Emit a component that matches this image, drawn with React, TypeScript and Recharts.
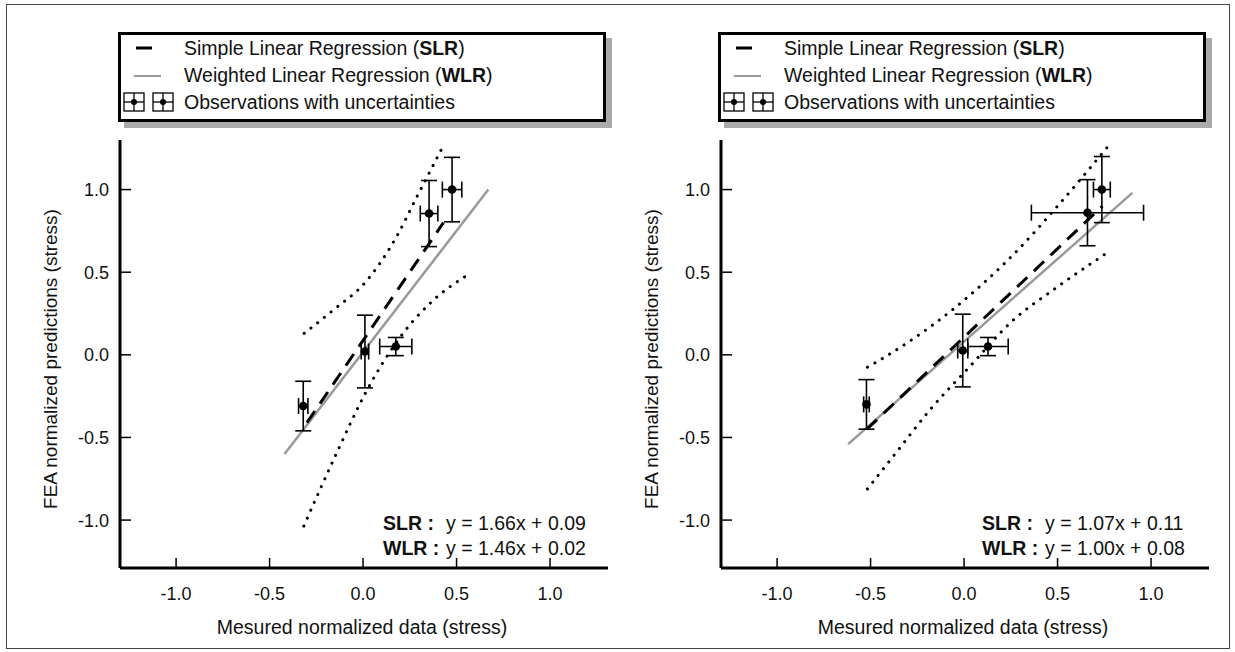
import React from 'react';
import { ComposedChart, Line, Scatter, XAxis, YAxis, ErrorBar } from 'recharts';

const FONT = '"Liberation Sans", Arial, Helvetica, sans-serif';

const xTicks = [-1, -0.5, 0, 0.5, 1];
const yTicks = [-1, -0.5, 0, 0.5, 1];
const xDomain = [-1.3, 1.31];
const yDomain = [-1.29, 1.3];

const xTitle = 'Mesured normalized data (stress)';
const yTitle = 'FEA normalized predictions (stress)';

// observations with x / y uncertainties
const leftObs = [
  { x: -0.32, y: -0.31, ex: 0.025, ey: 0.15 },
  { x: 0.01, y: 0.02, ex: 0.02, ey: 0.22 },
  { x: 0.175, y: 0.05, ex: 0.086, ey: 0.055 },
  { x: 0.353, y: 0.855, ex: 0.047, ey: 0.2 },
  { x: 0.476, y: 1.0, ex: 0.052, ey: 0.195 },
];
const leftSlr = [
  { x: -0.3, y: -0.41 },
  { x: 0.43, y: 0.8 },
];
const leftWlr = [
  { x: -0.42, y: -0.6 },
  { x: 0.67, y: 1.0 },
];
const leftUpper = [
  { x: -0.315, y: 0.13 },
  { x: -0.16, y: 0.27 },
  { x: 0.013, y: 0.44 },
  { x: 0.178, y: 0.713 },
  { x: 0.285, y: 0.95 },
  { x: 0.43, y: 1.267 },
];
const leftLower = [
  { x: -0.317, y: -1.036 },
  { x: -0.142, y: -0.596 },
  { x: 0.018, y: -0.22 },
  { x: 0.205, y: 0.117 },
  { x: 0.366, y: 0.32 },
  { x: 0.561, y: 0.485 },
];
const leftEqs = [
  { name: 'SLR :', eq: 'y = 1.66x + 0.09' },
  { name: 'WLR :', eq: 'y = 1.46x + 0.02' },
];

const rightObs = [
  { x: -0.522, y: -0.3, ex: 0.015, ey: 0.15 },
  { x: -0.007, y: 0.026, ex: 0.027, ey: 0.22 },
  { x: 0.128, y: 0.05, ex: 0.108, ey: 0.055 },
  { x: 0.66, y: 0.86, ex: 0.3, ey: 0.2 },
  { x: 0.737, y: 1.0, ex: 0.045, ey: 0.2 },
];
const rightSlr = [
  { x: -0.52, y: -0.45 },
  { x: 0.74, y: 0.9 },
];
const rightWlr = [
  { x: -0.62, y: -0.54 },
  { x: 0.9, y: 0.98 },
];
const rightUpper = [
  { x: -0.517, y: -0.075 },
  { x: -0.41, y: -0.004 },
  { x: -0.062, y: 0.273 },
  { x: 0.294, y: 0.642 },
  { x: 0.5, y: 0.9 },
  { x: 0.774, y: 1.267 },
];
const rightLower = [
  { x: -0.517, y: -0.812 },
  { x: -0.365, y: -0.594 },
  { x: -0.178, y: -0.327 },
  { x: 0.027, y: -0.075 },
  { x: 0.267, y: 0.214 },
  { x: 0.473, y: 0.39 },
  { x: 0.774, y: 0.624 },
];
const rightEqs = [
  { name: 'SLR :', eq: 'y = 1.07x + 0.11' },
  { name: 'WLR :', eq: 'y = 1.00x + 0.08' },
];

const XTick = (p: any) => (
  <g>
    <line x1={p.x} y1={p.y} x2={p.x} y2={p.y - 10} stroke="#000" strokeWidth={1.5} />
    <text x={p.x} y={p.y + 32} textAnchor="middle" fontSize={18} fontFamily={FONT} fill="#111">
      {Number(p.payload.value).toFixed(1)}
    </text>
  </g>
);

const YTick = (p: any) => (
  <g>
    <line x1={p.x} y1={p.y} x2={p.x + 11} y2={p.y} stroke="#000" strokeWidth={1.5} />
    <text x={p.x - 11} y={p.y + 6.5} textAnchor="end" fontSize={18} fontFamily={FONT} fill="#111">
      {Number(p.payload.value).toFixed(1)}
    </text>
  </g>
);

const XLabel = ({ viewBox }: any) => (
  <text
    x={viewBox.x + viewBox.width / 2 - 2}
    y={viewBox.y + 66}
    textAnchor="middle"
    fontSize={19.5}
    fontFamily={FONT}
    fill="#111"
  >
    {xTitle}
  </text>
);

const YLabel = ({ viewBox }: any) => {
  const cx = 50;
  const cy = viewBox.y + viewBox.height / 2 + 5;
  return (
    <text
      x={cx}
      y={cy}
      transform={`rotate(-90 ${cx} ${cy})`}
      textAnchor="middle"
      dominantBaseline="central"
      fontSize={19}
      fontFamily={FONT}
      fill="#111"
    >
      {yTitle}
    </text>
  );
};

const Dot = (p: any) => <circle cx={p.cx} cy={p.cy} r={4.3} fill="#000" />;

function ObsIcon() {
  return (
    <g stroke="#000" strokeWidth={1.3} fill="none">
      <rect x={-10} y={-9} width={20} height={18} />
      <line x1={-10} y1={0} x2={10} y2={0} />
      <line x1={0} y1={-9} x2={0} y2={9} />
      <circle cx={0} cy={0} r={3} fill="#000" stroke="none" />
    </g>
  );
}

function LegendBox({ left }: { left: number }) {
  const row: React.CSSProperties = {
    position: 'absolute',
    left: 63,
    fontSize: 19.5,
    lineHeight: '22px',
    whiteSpace: 'nowrap',
    color: '#111',
  };
  return (
    <div
      style={{
        position: 'absolute',
        left,
        top: 32,
        width: 482,
        height: 84,
        border: '3px solid #000',
        background: '#fff',
        boxShadow: '6px 6px 0 #aaa',
        fontFamily: FONT,
      }}
    >
      <svg width={60} height={84} style={{ position: 'absolute', left: 0, top: 0 }}>
        <line x1={15} y1={13} x2={31} y2={13} stroke="#000" strokeWidth={3} />
        <line x1={13} y1={41} x2={40} y2={41} stroke="#999" strokeWidth={2} />
        <g transform="translate(13,67)">
          <ObsIcon />
        </g>
        <g transform="translate(42,67)">
          <ObsIcon />
        </g>
      </svg>
      <div style={{ ...row, top: 2 }}>
        Simple Linear Regression (<b>SLR</b>)
      </div>
      <div style={{ ...row, top: 29 }}>
        Weighted Linear Regression (<b>WLR</b>)
      </div>
      <div style={{ ...row, top: 56 }}>Observations with uncertainties</div>
    </div>
  );
}

function Equations({ left, eqs }: { left: number; eqs: { name: string; eq: string }[] }) {
  return (
    <div style={{ position: 'absolute', left, top: 511, fontFamily: FONT, fontSize: 19.5, color: '#111' }}>
      {eqs.map((e) => (
        <div key={e.name} style={{ display: 'flex', height: 25, lineHeight: '25px', whiteSpace: 'nowrap' }}>
          <span style={{ width: 63, fontWeight: 'bold' }}>{e.name}</span>
          <span>{e.eq}</span>
        </div>
      ))}
    </div>
  );
}

type Pt = { x: number; y: number };
type Obs = Pt & { ex: number; ey: number };

function Panel(props: { left: number; obs: Obs[]; slr: Pt[]; wlr: Pt[]; upper: Pt[]; lower: Pt[] }) {
  const { left, obs, slr, wlr, upper, lower } = props;
  return (
    <div style={{ position: 'absolute', left, top: 0 }}>
      <ComposedChart width={615} height={652} margin={{ top: 140, right: 7, bottom: 24, left: 0 }}>
        <XAxis
          dataKey="x"
          type="number"
          domain={xDomain}
          ticks={xTicks}
          allowDataOverflow
          height={60}
          tickSize={0}
          tickMargin={0}
          tickLine={false}
          tick={XTick}
          axisLine={{ stroke: '#000', strokeWidth: 3 }}
          label={<XLabel />}
        />
        <YAxis
          type="number"
          domain={yDomain}
          ticks={yTicks}
          allowDataOverflow
          width={120}
          tickSize={0}
          tickMargin={0}
          tickLine={false}
          tick={YTick}
          axisLine={{ stroke: '#000', strokeWidth: 3 }}
          label={<YLabel />}
        />
        <Line data={upper} dataKey="y" type="monotone" stroke="#000" strokeWidth={3} strokeDasharray="0.1 8.5" strokeLinecap="round" dot={false} isAnimationActive={false} />
        <Line data={lower} dataKey="y" type="monotone" stroke="#000" strokeWidth={3} strokeDasharray="0.1 8.5" strokeLinecap="round" dot={false} isAnimationActive={false} />
        <Line data={wlr} dataKey="y" type="linear" stroke="#999" strokeWidth={2.5} dot={false} isAnimationActive={false} />
        <Line data={slr} dataKey="y" type="linear" stroke="#000" strokeWidth={3} strokeDasharray="14 9" dot={false} isAnimationActive={false} />
        <Scatter data={obs} dataKey="y" shape={Dot} isAnimationActive={false}>
          <ErrorBar dataKey="ey" direction="y" width={8} stroke="#000" strokeWidth={1.6} />
          <ErrorBar dataKey="ex" direction="x" width={8} stroke="#000" strokeWidth={1.6} />
        </Scatter>
      </ComposedChart>
    </div>
  );
}

export default function App() {
  return (
    <div style={{ position: 'absolute', left: 0, top: 0, width: 1235, height: 652, background: '#fff', overflow: 'hidden' }}>
      <div style={{ position: 'absolute', left: 6, top: 4, width: 1222, height: 643, border: '1px solid #444' }} />
      <Panel left={0} obs={leftObs} slr={leftSlr} wlr={leftWlr} upper={leftUpper} lower={leftLower} />
      <Panel left={601} obs={rightObs} slr={rightSlr} wlr={rightWlr} upper={rightUpper} lower={rightLower} />
      <LegendBox left={118} />
      <LegendBox left={718} />
      <Equations left={383} eqs={leftEqs} />
      <Equations left={982} eqs={rightEqs} />
    </div>
  );
}
